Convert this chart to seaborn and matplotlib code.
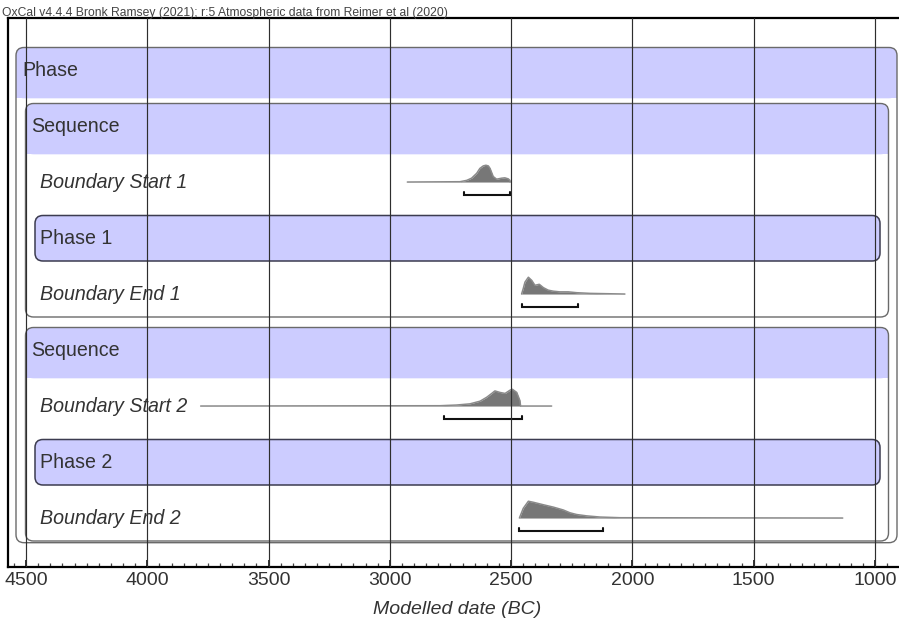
import numpy as np
import matplotlib
matplotlib.use("Agg")
import matplotlib.pyplot as plt
from matplotlib.patches import FancyBboxPatch, Rectangle
import seaborn as sns

# ---- model structure -------------------------------------------------------
row_labels = ["Phase", "Sequence", "Boundary Start 1", "Phase 1", "Boundary End 1",
              "Sequence", "Boundary Start 2", "Phase 2", "Boundary End 2"]
row_kinds = ["group", "group", "boundary", "group", "boundary",
             "group", "boundary", "group", "boundary"]
row_levels = [0, 1, 2, 2, 2, 1, 2, 2, 2]
group_last_row = [8, 4, None, 3, None, 8, None, 7, None]

# ---- posterior densities (date BC, relative probability) ------------------
bs1_dates = [2928, 2711, 2683, 2663, 2642, 2629, 2615, 2604, 2594, 2587, 2574,
             2560, 2539, 2526, 2512, 2505, 2504]
bs1_prob = [0.0, 0.02, 0.10, 0.23, 0.52, 0.81, 0.96, 1.0, 0.96, 0.81, 0.33,
            0.17, 0.23, 0.25, 0.19, 0.10, 0.0]

be1_dates = [2457, 2450, 2443, 2429, 2415, 2402, 2384, 2367, 2347, 2326, 2299,
             2264, 2230, 2175, 2031]
be1_prob = [0.0, 0.33, 0.71, 1.0, 0.81, 0.52, 0.58, 0.38, 0.23, 0.17, 0.13,
            0.13, 0.08, 0.04, 0.0]

bs2_dates = [3780, 2793, 2725, 2670, 2628, 2601, 2580, 2567, 2546, 2525, 2505,
             2495, 2477, 2464, 2461, 2333]
bs2_prob = [0.0, 0.02, 0.06, 0.13, 0.29, 0.52, 0.75, 0.90, 0.81, 0.75, 0.94,
            1.0, 0.81, 0.33, 0.0, 0.0]

be2_dates = [2466, 2450, 2429, 2409, 2367, 2326, 2285, 2257, 2230, 2189, 2134,
             2051, 1133]
be2_prob = [0.0, 0.58, 1.0, 0.94, 0.79, 0.65, 0.48, 0.31, 0.21, 0.13, 0.06,
            0.02, 0.0]

# 95.4% ranges (from, to)
bs1_range = [2694, 2505]
be1_range = [2457, 2223]
bs2_range = [2776, 2457]
be2_range = [2466, 2120]

boundary_rows = [2, 4, 6, 8]
densities = [(bs1_dates, bs1_prob, bs1_range),
             (be1_dates, be1_prob, be1_range),
             (bs2_dates, bs2_prob, bs2_range),
             (be2_dates, be2_prob, be2_range)]

major_ticks = [4500, 4000, 3500, 3000, 2500, 2000, 1500, 1000]
header_text = ("OxCal v4.4.4 Bronk Ramsey (2021); r:5 Atmospheric data from "
               "Reimer et al (2020)")
x_title = "Modelled date (BC)"

# ---- figure ----------------------------------------------------------------
sns.set_style("white")
plt.rcParams["font.family"] = ["Liberation Sans", "DejaVu Sans"]

W, H = 899, 622
fig = plt.figure(figsize=(W / 100, H / 100), dpi=100)
ax_left, ax_right, ax_top, ax_bottom = 8, 899, 18, 567
ax = fig.add_axes([ax_left / W, 1 - ax_bottom / H,
                   (ax_right - ax_left) / W, (ax_bottom - ax_top) / H])

PX_PER_YEAR = 849 / 3500.0          # horizontal scale
ROW_PX = 56.0                        # height of one row


def year_at(px):
    """Date for a horizontal pixel offset inside the figure."""
    return 4500 - (px - 26) / PX_PER_YEAR


ax.set_xlim(year_at(ax_left), year_at(ax_right))
row0_offset = (72 - ax_top) / ROW_PX
ax.set_ylim(-row0_offset + (ax_bottom - ax_top) / ROW_PX, -row0_offset)

aspect = PX_PER_YEAR / ROW_PX
radius = 8 / PX_PER_YEAR
blue = "#ccccff"


def rounded(x0, x1, y0, y1, **kw):
    return FancyBboxPatch((min(x0, x1), y0), abs(x1 - x0), y1 - y0,
                          boxstyle=f"round,pad=0,rounding_size={radius}",
                          mutation_aspect=aspect, **kw)


# group boxes
for r, (kind, lvl, last) in enumerate(zip(row_kinds, row_levels, group_last_row)):
    if kind != "group":
        continue
    left = year_at(16 + 9.5 * lvl)
    right = year_at(897 - 8.5 * lvl)
    top = r - 0.4375
    if last == r:
        bottom = r + 0.375
        ax.add_patch(rounded(left, right, top, bottom, facecolor=blue,
                             edgecolor="#3c3c50", lw=1.1, zorder=2))
    else:
        bottom = last + 0.345 + 0.03 * (2 - lvl)
        head = r + 0.47
        ax.add_patch(rounded(left, right, top, head, facecolor=blue,
                             edgecolor="none", zorder=1))
        ax.add_patch(Rectangle((min(left, right), top + 0.2), abs(right - left),
                               head - top - 0.2, facecolor=blue,
                               edgecolor="none", zorder=1))
        ax.add_patch(rounded(left, right, top, bottom, facecolor="none",
                             edgecolor="#6a6a6a", lw=1.0, zorder=2))

# row labels
for r, (label, kind, lvl) in enumerate(zip(row_labels, row_kinds, row_levels)):
    ax.text(year_at(22 + 9 * lvl), r + 0.075, label, fontsize=14.1, color="#333333",
            ha="left", va="baseline",
            style="italic" if kind == "boundary" else "normal", zorder=5)

# densities and ranges
PEAK = 0.30
for r, (dates, prob, rng) in zip(boundary_rows, densities):
    base = r - 0.035
    d = np.asarray(dates, float)
    p = np.asarray(prob, float)
    ax.fill_between(d, base, base - p * PEAK, color="#777777", lw=0, zorder=3)
    sns.lineplot(x=d, y=base - p * PEAK, ax=ax, color="#8a8a8a", lw=1.1,
                 sort=False, estimator=None, zorder=3)
    yb = r + 0.19
    ax.plot([rng[0], rng[0], rng[1], rng[1]], [yb - 0.055, yb, yb, yb - 0.055],
            color="#111111", lw=1.5, zorder=4, solid_joinstyle="miter")

# grid lines over everything
for t in major_ticks:
    ax.axvline(t, color="#2e2e2e", lw=0.85, zorder=10)

ax.set_xticks(major_ticks)
ax.set_xticks(np.arange(4550, 900, -50), minor=True)
ax.set_xticklabels([str(t) for t in major_ticks])
ax.set_yticks([])
ax.tick_params(axis="x", which="major", direction="in", length=5, width=1.2,
               color="#111111", labelsize=14, labelcolor="#333333", pad=3.5,
               bottom=True, top=False)
ax.tick_params(axis="x", which="minor", direction="in", length=3.2, width=0.9,
               color="#444444", bottom=True, top=False)
ax.set_xlabel(x_title, fontsize=14, style="italic", color="#333333")
ax.xaxis.set_label_coords((457 - ax_left) / (ax_right - ax_left), -0.062)

for side in ("left", "top", "bottom"):
    ax.spines[side].set_visible(True)
    ax.spines[side].set_color("#000000")
    ax.spines[side].set_linewidth(1.6)
ax.spines["right"].set_visible(False)

fig.text(2 / W, 1 - 16 / H, header_text, fontsize=8.7, color="#444444",
         ha="left", va="baseline")

fig.savefig("out.png", dpi=100)
